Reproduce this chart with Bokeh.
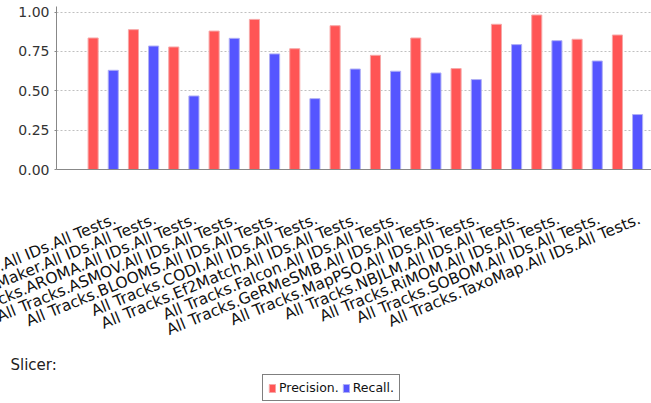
from bokeh.plotting import figure
from bokeh.models import (ColumnDataSource, Range1d, FixedTicker, Legend, LegendItem,
                          Label, PrintfTickFormatter)
from bokeh.transform import dodge
from bokeh.layouts import column
from bokeh.embed import file_html
from bokeh.resources import INLINE

# ---- data ----
systems = ["All Matchers", "AgrMaker", "AROMA", "ASMOV", "BLOOMS", "CODI", "Ef2Match",
           "Falcon", "GeRMeSMB", "MapPSO", "NBJLM", "RiMOM", "SOBOM", "TaxoMap"]
categories = ["All Tracks." + s + ".All IDs.All Tests." for s in systems]
precision = [0.835, 0.888, 0.778, 0.879, 0.953, 0.767, 0.913, 0.725, 0.835, 0.641,
             0.922, 0.981, 0.827, 0.854]
recall = [0.630, 0.784, 0.467, 0.833, 0.734, 0.450, 0.638, 0.624, 0.613, 0.571,
          0.793, 0.818, 0.689, 0.349]
series_names = ["Precision.", "Recall."]
series_fill = ["#ff5555", "#5555ff"]
series_line = ["#f7a8a8", "#b0b0f5"]
y_ticks = [0.0, 0.25, 0.5, 0.75, 1.0]

idx = list(range(len(categories)))
src = ColumnDataSource(dict(idx=idx, precision=precision, recall=recall))

W = 651
H1, H2 = 356, 47
X0, X1 = -1.158, 13.595

# ---------------- main chart ----------------
p = figure(width=W, height=H1, output_backend="svg", toolbar_location=None,
           x_range=Range1d(X0, X1), y_range=Range1d(0, 1.035),
           min_border_left=56, min_border_right=0, min_border_top=6,
           min_border_bottom=H1 - 169)
p.outline_line_color = None
p.background_fill_color = "white"
p.border_fill_color = "white"

red = p.vbar(x=dodge("idx", -0.25, range=p.x_range), top="precision", width=0.25,
             source=src, fill_color=series_fill[0], line_color=series_line[0], line_width=1)
blue = p.vbar(x=dodge("idx", 0.25, range=p.x_range), top="recall", width=0.25,
              source=src, fill_color=series_fill[1], line_color=series_line[1], line_width=1)

yax = p.yaxis[0]
yax.ticker = FixedTicker(ticks=y_ticks)
yax.formatter = PrintfTickFormatter(format="%.2f")
yax.major_label_text_font = "DejaVu Sans"
yax.major_label_text_font_size = "14px"
yax.major_label_text_color = "#333333"
yax.axis_line_color = "#888888"
yax.major_tick_line_color = "#888888"
yax.major_tick_out = 2
yax.major_tick_in = 0
yax.minor_tick_line_color = None
yax.major_label_standoff = 5

xax = p.xaxis[0]
label_offset = 0.3
tick_pos = [i + label_offset for i in idx]
edge_tick = X0 + 0.01          # empty placeholder label at the frame edge
xax.ticker = FixedTicker(ticks=[edge_tick] + tick_pos)
overrides = {t: c for t, c in zip(tick_pos, categories)}
overrides[edge_tick] = " "
xax.major_label_overrides = overrides
xax.major_label_orientation = 0.3927
xax.major_label_text_font = "DejaVu Sans"
xax.major_label_text_font_size = "15.5px"
xax.major_label_text_color = "#111111"
xax.major_label_standoff = 43
xax.axis_line_color = "#888888"
xax.major_tick_line_color = None
xax.minor_tick_line_color = None

p.xgrid.grid_line_color = None
p.ygrid.ticker = FixedTicker(ticks=y_ticks)
p.ygrid.grid_line_color = "#c0c0c0"
p.ygrid.grid_line_dash = "2 2"

# ---------------- footer: slicer caption + legend ----------------
p2 = figure(width=W, height=H2, output_backend="svg", toolbar_location=None,
            x_range=Range1d(0, W), y_range=Range1d(0, H2),
            x_axis_type=None, y_axis_type=None,
            min_border_left=0, min_border_right=0, min_border_top=0, min_border_bottom=0)
try:
    p2.frame_align = False
except Exception:
    pass
p2.outline_line_color = None
p2.xgrid.grid_line_color = None
p2.ygrid.grid_line_color = None
p2.background_fill_color = "white"
p2.border_fill_color = "white"

r2 = p2.vbar(x="idx", top="precision", width=0.25, source=src,
             fill_color=series_fill[0], line_color=series_line[0], visible=False)
b2 = p2.vbar(x="idx", top="recall", width=0.25, source=src,
             fill_color=series_fill[1], line_color=series_line[1], visible=False)

slicer = Label(x=10, y=H2 - 8, text="Slicer:", text_font="DejaVu Sans",
               text_font_size="15px", text_color="#222222",
               text_baseline="middle", text_align="left")
p2.add_layout(slicer)

legend = Legend(items=[LegendItem(label=series_names[0], renderers=[r2]),
                       LegendItem(label=series_names[1], renderers=[b2])],
                orientation="horizontal", location=(262, 2),
                label_text_font="DejaVu Sans", label_text_font_size="12.5px",
                label_text_color="#111111",
                glyph_width=8, glyph_height=10, label_standoff=3, spacing=3,
                padding=5, margin=0, label_height=14,
                border_line_color="black", border_line_width=1,
                background_fill_color="white", background_fill_alpha=1,
                inactive_fill_alpha=0)
p2.add_layout(legend, "center")

layout = column(p, p2, spacing=0)
open("out.html", "w").write(file_html(layout, INLINE))
